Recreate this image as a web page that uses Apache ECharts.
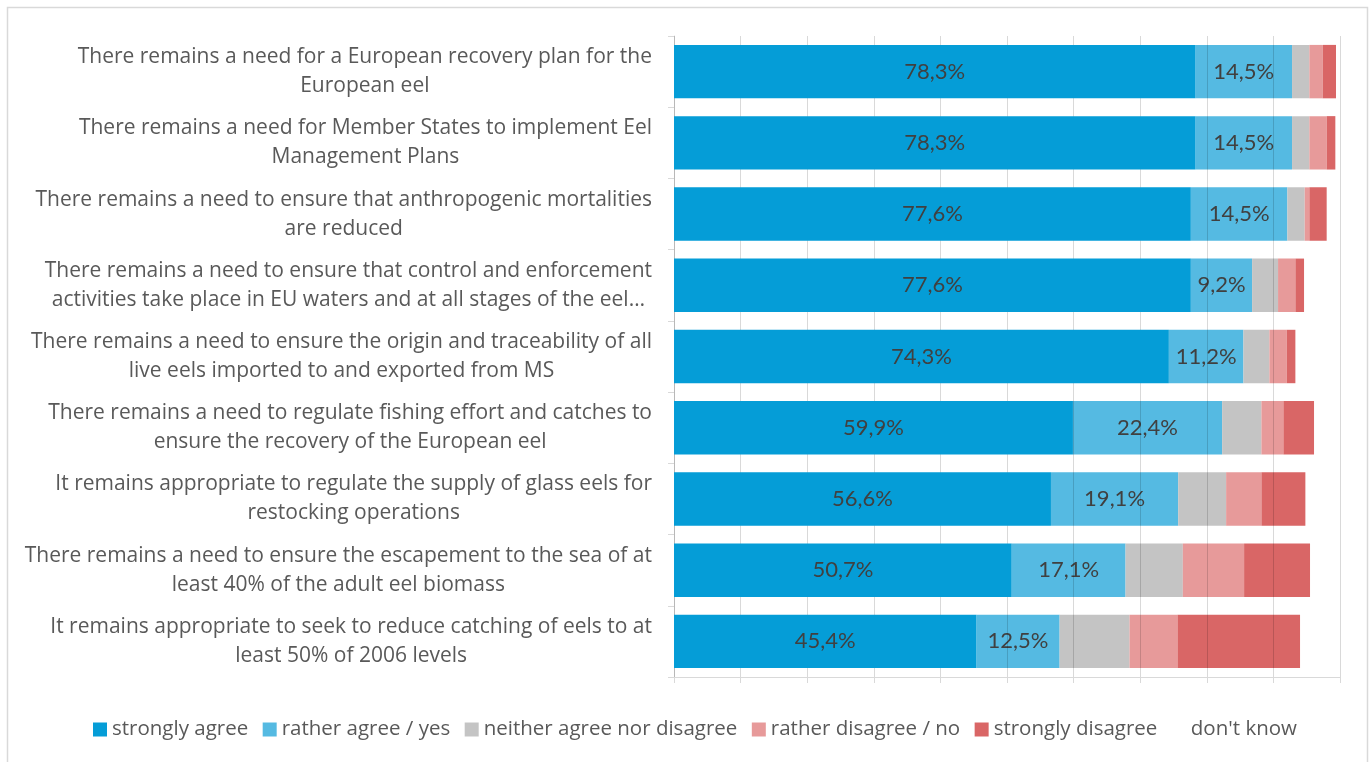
<!DOCTYPE html>
<html>
<head>
<meta charset="utf-8">
<script src="https://cdn.jsdelivr.net/npm/echarts@6/dist/echarts.min.js"></script>
<style>
  html, body { margin: 0; padding: 0; background: #ffffff; }
  #chart { width: 1372px; height: 762px; }
</style>
</head>
<body>
<div id="chart"></div>
<script>
// Survey statements (top to bottom)
const categories = [
  'There remains a need for a European recovery plan for the\nEuropean eel',
  'There remains a need for Member States to implement Eel\nManagement Plans',
  'There remains a need to ensure that anthropogenic mortalities\nare reduced',
  'There remains a need to ensure that control and enforcement\nactivities take place in EU waters and at all stages of the eel\u2026',
  'There remains a need to ensure the origin and traceability of all\nlive eels imported to and exported from MS',
  'There remains a need to regulate fishing effort and catches to\nensure the recovery of the European eel',
  'It remains appropriate to regulate the supply of glass eels for\nrestocking operations',
  'There remains a need to ensure the escapement to the sea of at\nleast 40% of the adult eel biomass',
  'It remains appropriate to seek to reduce catching of eels to at\nleast 50% of 2006 levels'
];

const answerNames = [
  'strongly agree',
  'rather agree / yes',
  'neither agree nor disagree',
  'rather disagree / no',
  'strongly disagree',
  "don't know"
];

// Share of respondents per answer (%)
const stronglyAgree    = [78.3, 78.3, 77.6, 77.6, 74.3, 59.9, 56.6, 50.7, 45.4];
const ratherAgree      = [14.5, 14.5, 14.5,  9.2, 11.2, 22.4, 19.1, 17.1, 12.5];
const neitherNor       = [ 2.6,  2.6,  2.6,  3.9,  3.9,  5.9,  7.2,  8.6, 10.5];
const ratherDisagree   = [ 2.0,  2.6,  0.7,  2.6,  2.6,  3.3,  5.3,  9.2,  7.2];
const stronglyDisagree = [ 2.0,  1.3,  2.6,  1.3,  1.3,  4.6,  6.6,  9.9, 18.4];
const dontKnow         = [ 0.7,  0.7,  2.0,  5.3,  6.6,  3.9,  5.3,  4.6,  5.9];

const axisMin = 0;
const axisMax = 100;
const axisStep = 10;

const answerValues = [stronglyAgree, ratherAgree, neitherNor, ratherDisagree, stronglyDisagree, dontKnow];
const answerColors = ['#059DD7', '#55BAE2', '#C4C4C4', '#E79A9A', '#D96666', 'rgba(255,255,255,0)'];
const labelledAnswers = 2;

const textFont = '"Segoe UI", "Open Sans", sans-serif';
const numberFont = 'Lato, "Open Sans", sans-serif';

function percentText(v) {
  return v.toFixed(1).replace('.', ',') + '%';
}

const chart = echarts.init(document.getElementById('chart'), null, { renderer: 'canvas' });

chart.setOption({
  backgroundColor: '#ffffff',
  animation: false,
  graphic: [{
    type: 'rect',
    silent: true,
    shape: { x: 7.5, y: 7.5, width: 1360, height: 800 },
    style: { fill: 'none', stroke: '#D9D9D9', lineWidth: 1.5 }
  }],
  grid: {
    left: 674,
    right: 32,
    top: 36,
    bottom: 85,
    containLabel: false,
    outerBoundsMode: 'none'
  },
  legend: {
    data: answerNames,
    left: 88,
    top: 714,
    icon: 'rect',
    itemWidth: 14,
    itemHeight: 14,
    itemGap: 14.5,
    selectedMode: false,
    textStyle: { fontFamily: textFont, fontSize: 20.5, color: '#595959' }
  },
  xAxis: {
    type: 'value',
    min: axisMin,
    max: axisMax,
    interval: axisStep,
    z: 3,
    axisLabel: { show: false },
    axisLine: { show: true, lineStyle: { color: '#D9D9D9', width: 1 } },
    axisTick: { show: true, length: 6, lineStyle: { color: '#D9D9D9' } },
    splitLine: { show: true, lineStyle: { color: 'rgba(0,0,0,0.15)', width: 1 } }
  },
  yAxis: {
    type: 'category',
    data: categories,
    inverse: true,
    axisLine: { show: true, lineStyle: { color: '#D9D9D9', width: 1 } },
    axisTick: { show: true, length: 6, lineStyle: { color: '#D9D9D9' } },
    splitLine: { show: false },
    axisLabel: {
      margin: 22,
      formatter: function (v) {
        return v.split('\n').map(function (line) { return '{c|' + line + '}'; }).join('\n');
      },
      rich: {
        c: {
          align: 'center',
          fontFamily: textFont,
          fontSize: 21,
          lineHeight: 29,
          color: '#595959'
        }
      }
    }
  },
  series: answerNames.map(function (name, i) {
    return {
      name: name,
      type: 'bar',
      stack: 'answers',
      data: answerValues[i],
      barCategoryGap: '25%',
      z: i === 0 ? 4 : 2,
      silent: true,
      itemStyle: { color: answerColors[i] },
      label: {
        show: i < labelledAnswers,
        position: 'inside',
        formatter: function (p) { return percentText(p.value); },
        fontFamily: numberFont,
        fontSize: 22,
        color: '#404040'
      },
      emphasis: { disabled: true }
    };
  })
});
</script>
</body>
</html>
